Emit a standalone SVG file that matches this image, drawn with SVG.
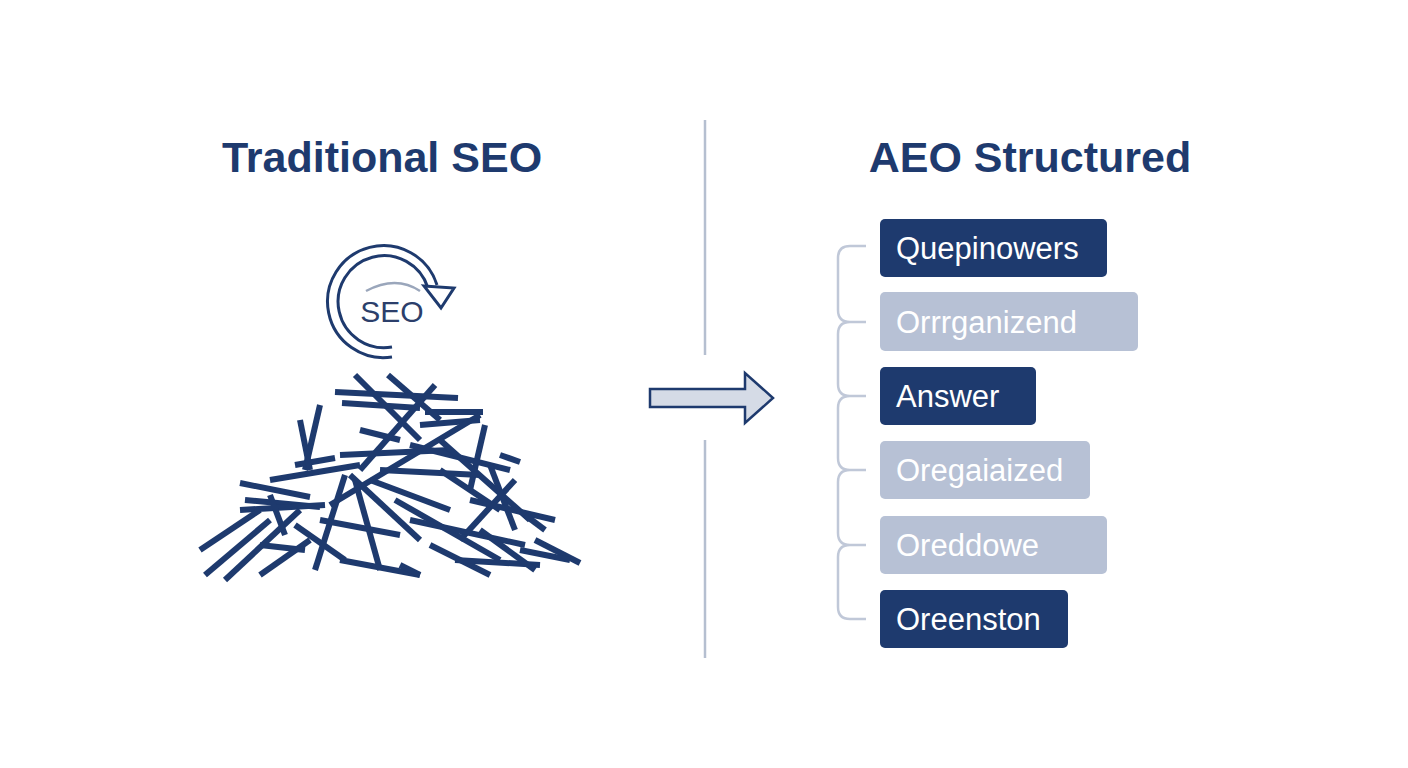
<svg xmlns="http://www.w3.org/2000/svg" width="1408" height="768" viewBox="0 0 1408 768">
<style>
.t{font-family:"Liberation Sans",Arial,sans-serif;font-weight:bold;font-size:43px;fill:#1e3a6e}
.bt{font-family:"Liberation Sans",Arial,sans-serif;font-size:31px;fill:#fff}
.d{fill:#1e3a6e}.l{fill:#b7c1d5}
.s line{stroke:#1e3a6e;stroke-width:6}
</style>
<rect width="1408" height="768" fill="#fff"/>
<text class="t" x="382" y="172" text-anchor="middle">Traditional SEO</text>
<text class="t" x="1030" y="172" text-anchor="middle">AEO Structured</text>
<g id="divider" stroke="#b5bfd0" stroke-width="2.5"><line x1="705" y1="120" x2="705" y2="355"/><line x1="705" y1="440" x2="705" y2="658"/></g>
<g id="arrow"><path d="M650,389 H745 V373 L773,398 L745,423 V407 H650 Z" fill="#d5dbe6" stroke="#1e3a6e" stroke-width="2.5"/></g>
<g id="seo-icon" fill="none" stroke="#1e3a6e" stroke-width="3">
<path d="M392,357 A56,56 0 1 1 437,285"/>
<path d="M392,347 A46,46 0 1 1 428,288"/>
<path d="M424,286 L454,288 L441,308 Z" fill="#fff"/>
<path d="M366,291 Q396,275 420,291" stroke="#9aa6bb" stroke-width="2.5"/>
<text x="392" y="322" text-anchor="middle" font-family="Liberation Sans Narrow,Liberation Sans,sans-serif" font-size="30" fill="#2c3f6b" stroke="none">SEO</text>
</g>
<g id="pile" class="s">
<line x1="355" y1="375" x2="420" y2="440"/><line x1="388" y1="375" x2="440" y2="420"/>
<line x1="435" y1="385" x2="360" y2="470"/><line x1="335" y1="392" x2="458" y2="398"/>
<line x1="342" y1="403" x2="420" y2="408"/><line x1="320" y1="405" x2="305" y2="470"/>
<line x1="425" y1="412" x2="483" y2="412"/><line x1="420" y1="425" x2="480" y2="420"/>
<line x1="485" y1="425" x2="470" y2="490"/><line x1="480" y1="415" x2="330" y2="505"/>
<line x1="295" y1="465" x2="335" y2="458"/><line x1="340" y1="455" x2="450" y2="450"/>
<line x1="270" y1="480" x2="360" y2="465"/><line x1="410" y1="445" x2="510" y2="470"/>
<line x1="440" y1="440" x2="530" y2="520"/><line x1="500" y1="455" x2="520" y2="462"/>
<line x1="515" y1="480" x2="460" y2="540"/><line x1="490" y1="465" x2="515" y2="530"/>
<line x1="240" y1="483" x2="310" y2="497"/><line x1="245" y1="500" x2="320" y2="507"/>
<line x1="240" y1="510" x2="325" y2="505"/><line x1="200" y1="550" x2="260" y2="510"/>
<line x1="205" y1="575" x2="270" y2="520"/><line x1="225" y1="580" x2="300" y2="510"/>
<line x1="260" y1="575" x2="310" y2="540"/><line x1="345" y1="475" x2="315" y2="570"/>
<line x1="355" y1="480" x2="380" y2="570"/><line x1="350" y1="475" x2="420" y2="540"/>
<line x1="370" y1="480" x2="450" y2="510"/><line x1="380" y1="470" x2="480" y2="475"/>
<line x1="395" y1="500" x2="500" y2="560"/><line x1="410" y1="520" x2="525" y2="545"/>
<line x1="430" y1="545" x2="490" y2="575"/><line x1="320" y1="520" x2="400" y2="535"/>
<line x1="295" y1="525" x2="345" y2="560"/><line x1="260" y1="545" x2="305" y2="550"/>
<line x1="340" y1="560" x2="420" y2="575"/><line x1="400" y1="565" x2="420" y2="575"/>
<line x1="470" y1="500" x2="555" y2="520"/><line x1="525" y1="515" x2="545" y2="530"/>
<line x1="535" y1="540" x2="580" y2="563"/><line x1="520" y1="550" x2="570" y2="560"/>
<line x1="455" y1="560" x2="540" y2="565"/><line x1="480" y1="530" x2="535" y2="570"/>
<line x1="300" y1="420" x2="310" y2="470"/><line x1="270" y1="495" x2="285" y2="535"/>
<line x1="440" y1="470" x2="500" y2="510"/><line x1="360" y1="430" x2="400" y2="440"/>
</g>
<g id="bracket" fill="none" stroke="#c0c8d8" stroke-width="2.5">
<path d="M866,246 H850 Q838,246 838,258 V310 Q838,322 850,322 H866 M850,322 Q838,322 838,334 V384 Q838,396 850,396 H866 M850,396 Q838,396 838,408 V458 Q838,470 850,470 H866 M850,470 Q838,470 838,482 V533 Q838,545 850,545 H866 M850,545 Q838,545 838,557 V607 Q838,619 850,619 H866"/>
</g>
<g id="b1"><rect class="d" x="880" y="219" width="227" height="58" rx="5"/><text class="bt" x="896" y="259">Quepinowers</text></g>
<g id="b2"><rect class="l" x="880" y="292" width="258" height="59" rx="5"/><text class="bt" x="896" y="333">Orrrganizend</text></g>
<g id="b3"><rect class="d" x="880" y="367" width="156" height="58" rx="5"/><text class="bt" x="896" y="407">Answer</text></g>
<g id="b4"><rect class="l" x="880" y="441" width="210" height="58" rx="5"/><text class="bt" x="896" y="481">Oregaiaized</text></g>
<g id="b5"><rect class="l" x="880" y="516" width="227" height="58" rx="5"/><text class="bt" x="896" y="556">Oreddowe</text></g>
<g id="b6"><rect class="d" x="880" y="590" width="188" height="58" rx="5"/><text class="bt" x="896" y="630">Oreenston</text></g>
</svg>
